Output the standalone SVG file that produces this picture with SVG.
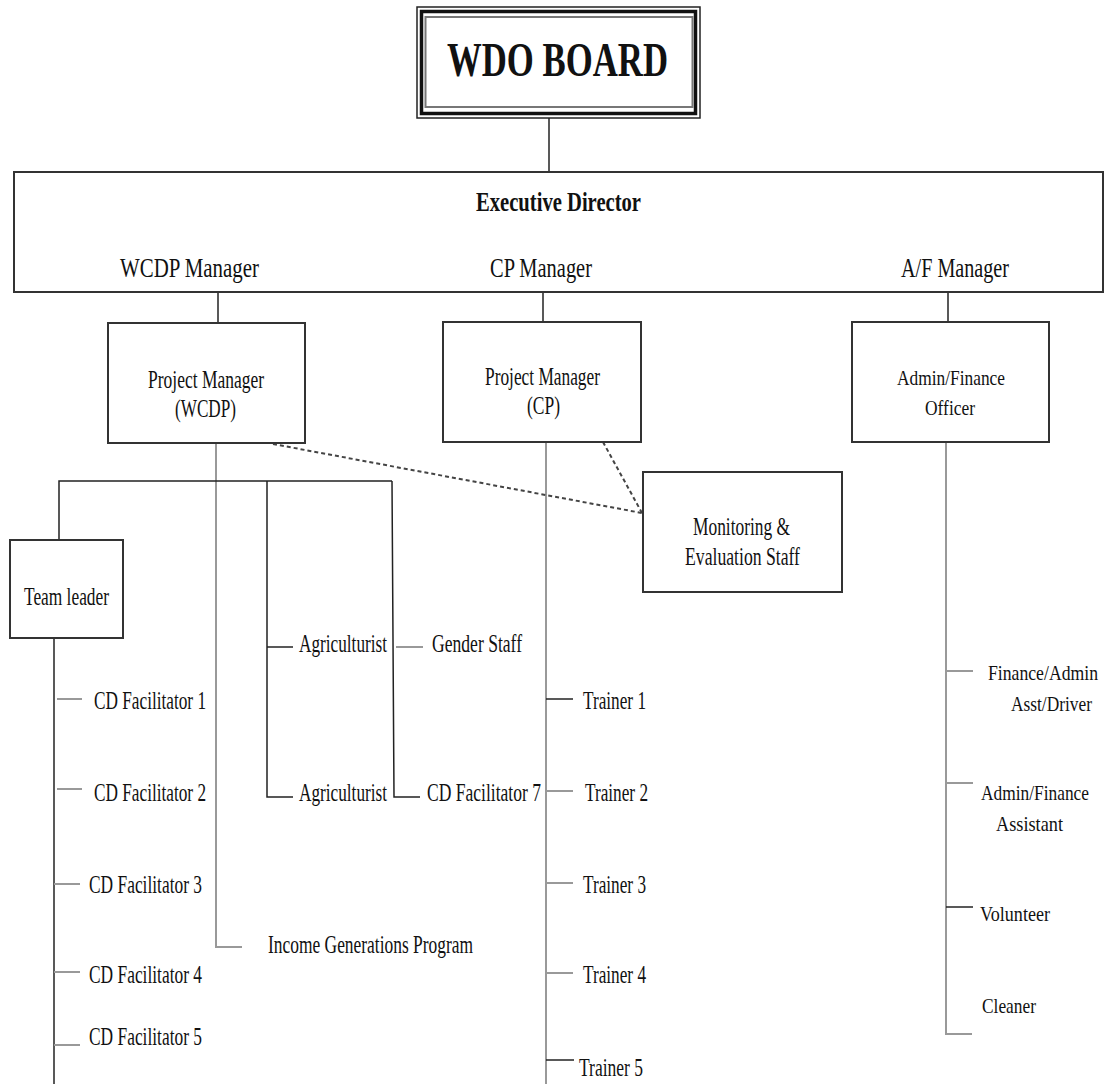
<svg xmlns="http://www.w3.org/2000/svg" width="1105" height="1084" viewBox="0 0 1105 1084">
<style>
text{font-family:"Liberation Serif","Times New Roman",serif;fill:#111;}
.t{font-size:25px;}
.b{font-size:25px;}
.s{font-size:21px;}
.m{font-size:27px;}
.box{fill:#fff;stroke:#333;stroke-width:2;}
.g{stroke:#999;stroke-width:2;fill:none;}
.k{stroke:#222;stroke-width:1.5;fill:none;}
.d{stroke:#444;stroke-width:2;stroke-dasharray:4 3;fill:none;}
</style>
<rect width="1105" height="1084" fill="#fff"/>
<g id="connectors">
<line class="k" x1="549" y1="118" x2="549" y2="172"/>
<line class="k" x1="218" y1="292" x2="218" y2="323"/>
<line class="k" x1="543" y1="292" x2="543" y2="322"/>
<line class="k" x1="948" y1="292" x2="948" y2="322"/>
<polyline class="g" points="216,443 216,947 242,947"/>
<polyline class="k" points="59,540 59,481 392,481"/>
<polyline class="k" points="293,647 267,647"/>
<polyline class="k" points="267,481 267,797 293,797"/>
<line class="g" x1="396" y1="647" x2="423" y2="647"/>
<polyline class="k" points="392,481 394,797 420,797"/>
<line class="k" x1="54" y1="638" x2="54" y2="1084"/>
<line class="g" x1="57" y1="699" x2="82" y2="699"/>
<line class="g" x1="57" y1="789" x2="82" y2="789"/>
<line class="g" x1="54" y1="884" x2="80" y2="884"/>
<line class="g" x1="54" y1="972" x2="80" y2="972"/>
<line class="g" x1="54" y1="1045" x2="80" y2="1045"/>
<line class="g" x1="546" y1="442" x2="546" y2="1084"/>
<line class="k" x1="546" y1="699" x2="573" y2="699"/>
<line class="g" x1="546" y1="791" x2="573" y2="791"/>
<line class="g" x1="546" y1="883" x2="573" y2="883"/>
<line class="g" x1="546" y1="973" x2="573" y2="973"/>
<line class="k" x1="546" y1="1060" x2="574" y2="1060"/>
<polyline class="g" points="946,442 946,1034 972,1034"/>
<line class="g" x1="946" y1="671" x2="973" y2="671"/>
<line class="g" x1="946" y1="783" x2="973" y2="783"/>
<line class="k" x1="946" y1="907" x2="973" y2="907"/>
<line class="d" x1="273" y1="444" x2="642" y2="513"/>
<line class="d" x1="603" y1="442" x2="642" y2="513"/>
</g>
<g id="board">
<rect x="417" y="7" width="283" height="111" fill="#fff" stroke="#222" stroke-width="1.5"/>
<rect x="421.5" y="11.5" width="274" height="102" fill="none" stroke="#111" stroke-width="3.5"/>
<rect x="425.5" y="17" width="267" height="90" fill="none" stroke="#777" stroke-width="2"/>
<text x="447" y="76" font-size="49" font-weight="bold" textLength="221" lengthAdjust="spacingAndGlyphs">WDO BOARD</text>
</g>
<g id="executive">
<rect class="box" x="14" y="172" width="1089" height="120"/>
<text x="476" y="211" font-size="27" font-weight="bold" textLength="165" lengthAdjust="spacingAndGlyphs">Executive Director</text>
<text class="m" x="120" y="277" textLength="139" lengthAdjust="spacingAndGlyphs">WCDP Manager</text>
<text class="m" x="490" y="277" textLength="102" lengthAdjust="spacingAndGlyphs">CP Manager</text>
<text class="m" x="901" y="277" textLength="108" lengthAdjust="spacingAndGlyphs">A/F Manager</text>
</g>
<g id="pm-wcdp">
<rect class="box" x="108" y="323" width="197" height="120"/>
<text class="b" x="148" y="388" textLength="116" lengthAdjust="spacingAndGlyphs">Project Manager</text>
<text class="b" x="175" y="417" textLength="61" lengthAdjust="spacingAndGlyphs">(WCDP)</text>
</g>
<g id="pm-cp">
<rect class="box" x="443" y="322" width="198" height="120"/>
<text class="b" x="485" y="385" textLength="115" lengthAdjust="spacingAndGlyphs">Project Manager</text>
<text class="b" x="527" y="414" textLength="33" lengthAdjust="spacingAndGlyphs">(CP)</text>
</g>
<g id="af-officer">
<rect class="box" x="852" y="322" width="197" height="120"/>
<text class="s" x="897" y="385" textLength="108" lengthAdjust="spacingAndGlyphs">Admin/Finance</text>
<text class="s" x="925" y="415" textLength="50" lengthAdjust="spacingAndGlyphs">Officer</text>
</g>
<g id="me-staff">
<rect class="box" x="643" y="472" width="199" height="120"/>
<text class="b" x="693" y="535" textLength="97" lengthAdjust="spacingAndGlyphs">Monitoring &amp;</text>
<text class="b" x="685" y="565" textLength="115" lengthAdjust="spacingAndGlyphs">Evaluation Staff</text>
</g>
<g id="team-leader">
<rect class="box" x="10" y="540" width="113" height="98"/>
<text class="b" x="24" y="605" textLength="85" lengthAdjust="spacingAndGlyphs">Team leader</text>
</g>
<g id="wcdp-staff">
<text class="t" x="299" y="652" textLength="88" lengthAdjust="spacingAndGlyphs">Agriculturist</text>
<text class="t" x="299" y="801" textLength="88" lengthAdjust="spacingAndGlyphs">Agriculturist</text>
<text class="t" x="432" y="652" textLength="90" lengthAdjust="spacingAndGlyphs">Gender Staff</text>
<text class="t" x="427" y="801" textLength="114" lengthAdjust="spacingAndGlyphs">CD Facilitator 7</text>
<text class="t" x="268" y="953" textLength="205" lengthAdjust="spacingAndGlyphs">Income Generations Program</text>
</g>
<g id="facilitators">
<text class="t" x="94" y="709" textLength="112" lengthAdjust="spacingAndGlyphs">CD Facilitator 1</text>
<text class="t" x="94" y="801" textLength="112" lengthAdjust="spacingAndGlyphs">CD Facilitator 2</text>
<text class="t" x="89" y="893" textLength="113" lengthAdjust="spacingAndGlyphs">CD Facilitator 3</text>
<text class="t" x="89" y="983" textLength="113" lengthAdjust="spacingAndGlyphs">CD Facilitator 4</text>
<text class="t" x="89" y="1045" textLength="113" lengthAdjust="spacingAndGlyphs">CD Facilitator 5</text>
</g>
<g id="trainers">
<text class="t" x="583" y="709" textLength="63" lengthAdjust="spacingAndGlyphs">Trainer 1</text>
<text class="t" x="585" y="801" textLength="63" lengthAdjust="spacingAndGlyphs">Trainer 2</text>
<text class="t" x="583" y="893" textLength="63" lengthAdjust="spacingAndGlyphs">Trainer 3</text>
<text class="t" x="583" y="983" textLength="63" lengthAdjust="spacingAndGlyphs">Trainer 4</text>
<text class="t" x="579" y="1076" textLength="64" lengthAdjust="spacingAndGlyphs">Trainer 5</text>
</g>
<g id="af-staff">
<text class="s" x="988" y="680" textLength="110" lengthAdjust="spacingAndGlyphs">Finance/Admin</text>
<text class="s" x="1011" y="711" textLength="81" lengthAdjust="spacingAndGlyphs">Asst/Driver</text>
<text class="s" x="981" y="800" textLength="108" lengthAdjust="spacingAndGlyphs">Admin/Finance</text>
<text class="s" x="996" y="831" textLength="67" lengthAdjust="spacingAndGlyphs">Assistant</text>
<text class="s" x="980" y="921" textLength="70" lengthAdjust="spacingAndGlyphs">Volunteer</text>
<text class="s" x="982" y="1013" textLength="54" lengthAdjust="spacingAndGlyphs">Cleaner</text>
</g>
</svg>
